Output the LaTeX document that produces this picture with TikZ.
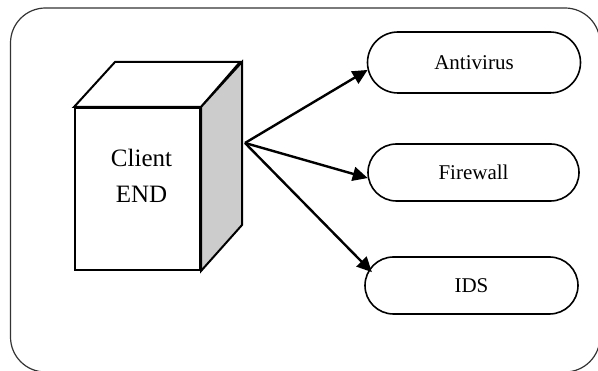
\documentclass[tikz,border=0pt]{standalone}
\usepackage{fontspec}
\setmainfont{Liberation Serif}
\usetikzlibrary{arrows.meta,shapes.misc}
\begin{document}
\begin{tikzpicture}[x=1pt,y=-1pt,
 pill/.style={rounded rectangle, draw, line width=1.6pt, minimum width=213pt, minimum height=58pt, inner sep=0pt, font=\fontsize{21}{25}\selectfont},
 link/.style={line width=2.4pt, -{Triangle[length=15pt,width=14pt]}},
 frame/.style={draw=black!80, line width=1.2pt, rounded corners=35pt},
 boxline/.style={draw, line width=2pt, line join=miter}]
\useasboundingbox (0,0) rectangle (598,371);
\draw[frame] (10.5,8) rectangle (600,372);
% box
\node[boxline, fill=white, minimum width=125pt, minimum height=162pt, inner sep=0pt, anchor=north west] (front) at (74,107) {};
\draw[boxline, fill=white] (front.north west) -- ++(41,-45) -- ++(125,0) -- (front.north east) -- cycle;
\draw[boxline, fill=black!20] (front.north east) -- ++(41,-45) -- ++(0,163) -- (front.south east) -- cycle;
\node[font=\fontsize{25}{36}\selectfont, align=center] (lbl) at (141.5,176) {Client\\END};
% pills
\node[pill, minimum height=61pt] (av) at (474,62.5) {Antivirus};
\node[pill, minimum width=211pt, minimum height=57pt] (fw) at (473.5,172.5) {Firewall};
\node[pill, minimum height=57pt] (ids) at (471.5,285.5) {IDS};
% arrows
\coordinate (src) at (245,143);
\draw[link] (src) -- (av.184);
\draw[link] (src) -- (fw.183);
\draw[link, shorten >=-4pt] (src) -- (ids.171);
\end{tikzpicture}
\end{document}
